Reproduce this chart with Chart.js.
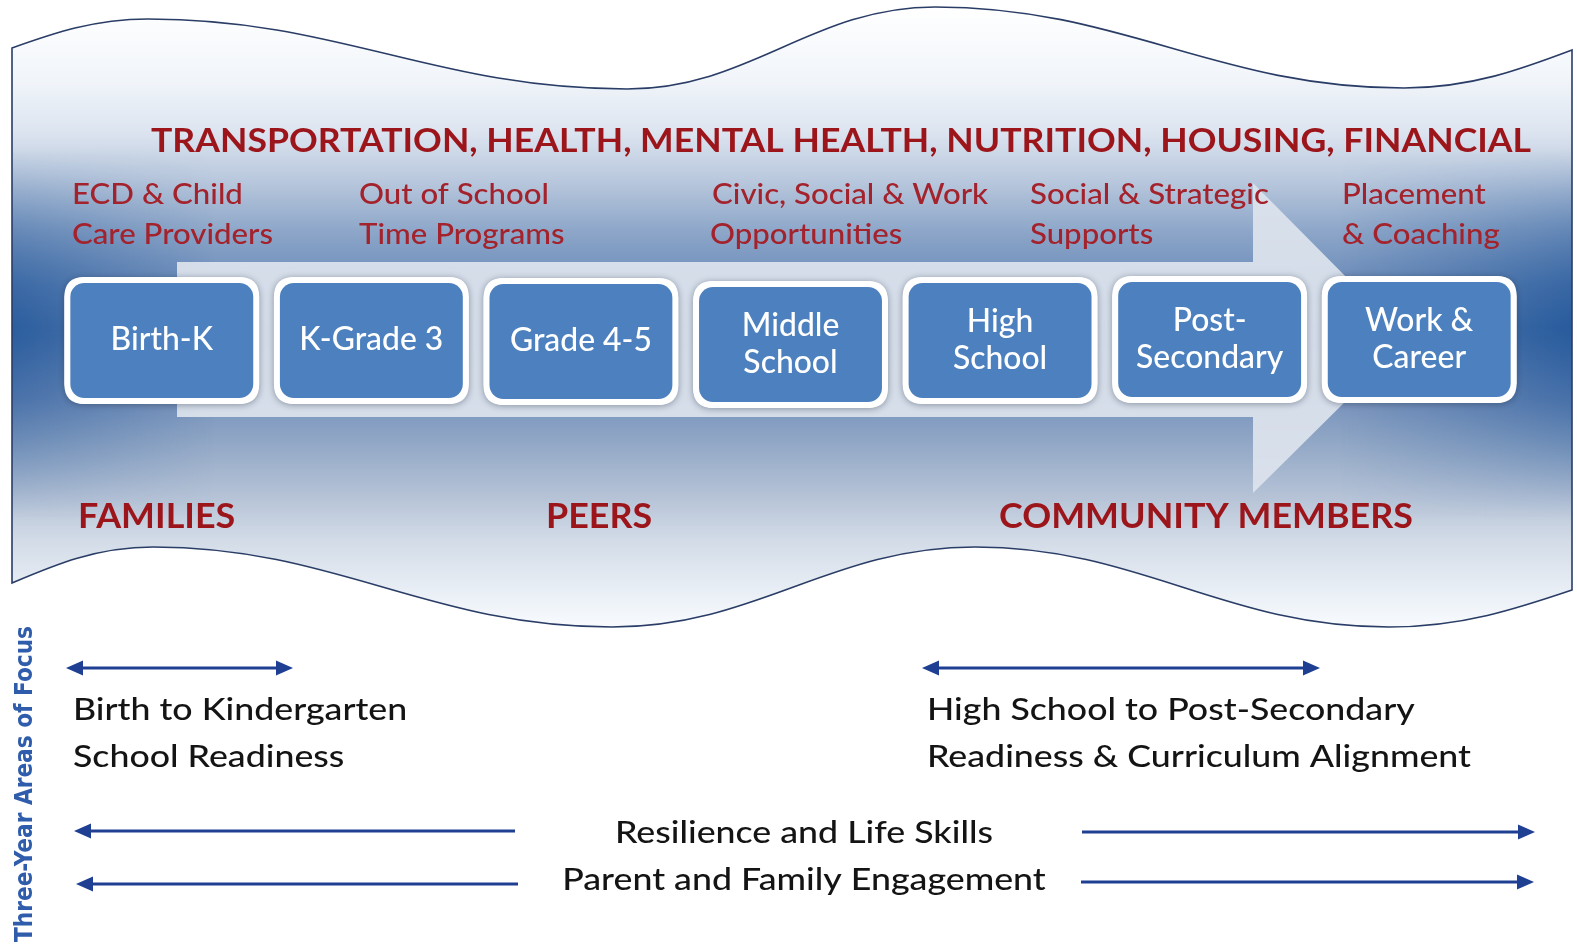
<!DOCTYPE html>
<html><head><meta charset="utf-8">
<script src="https://cdn.jsdelivr.net/npm/chart.js@4/dist/chart.umd.min.js"></script>
<style>html,body{margin:0;padding:0;background:#fff;overflow:hidden}#wrap{width:1577px;height:949px;position:relative}</style>
</head><body><div id="wrap"><canvas id="c"></canvas></div>
<script>
// ---------- content ----------
const stages = ['Birth-K','K-Grade 3','Grade 4-5','Middle School','High School','Post-Secondary','Work & Career'];
const stageLines = [['Birth-K'],['K-Grade 3'],['Grade 4-5'],['Middle','School'],['High','School'],['Post-','Secondary'],['Work &','Career']];
const supportDomains = ['TRANSPORTATION','HEALTH','MENTAL HEALTH','NUTRITION','HOUSING','FINANCIAL'];
const providers = [['ECD & Child','Care Providers'],['Out of School','Time Programs'],['Civic, Social & Work','Opportunities'],['Social & Strategic','Supports'],['Placement','& Coaching']];
const communityGroups = ['FAMILIES','PEERS','COMMUNITY MEMBERS'];
const focusAreas = [['Birth to Kindergarten','School Readiness'],['High School to Post-Secondary','Readiness & Curriculum Alignment']];
const ongoingAreas = ['Resilience and Life Skills','Parent and Family Engagement'];
const sideTitle = 'Three-Year Areas of Focus';

// ---------- layout (diagram units, mapped through the chart scales) ----------
const L = {
  W:1577, H:949, padLeft:57, padRight:53,
  boxTop:277, boxBottom:404, boxShift:[0,0,1,4,0,-1,-1],
  wave:{ top:[[12,48],[148,19],[627,89],[935,7],[1404,88],[1572,50]],
         bottom:[[12,583],[153,547],[612,627],[975,547],[1389,627],[1572,590]] },
  arrow:{x0:177,y0:262,y1:417,hx:1253,hTop:183,hBot:493,tip:1408},
  title:{x:151,y:152,w:1380,size:33},
  prov:{x:[72,359,712,1030,1342], x2:[72,359,710,1030,1342], y:[204,244], size:28, refW:201},
  box:{size:32, refW:144, gap:37},
  comm:{x:[78,546,999], y:528, size:35, refW:414},
  focus:{x:[73,927], y:[720,767], size:30, refW:544},
  focusArrows:[[66,293],[922,1320]], focusArrowY:668,
  ongoing:{cx:804, y:[843,890]},
  ongoingArrows:[ {l:[74,515], r:[1082,1535], y:[831,832]}, {l:[76,518], r:[1081,1534], y:[884,882]} ],
  side:{cx:26, cy:784, len:316, size:24}
};

const boxSpans = stages.map((s,i)=>[L.boxTop+L.boxShift[i], L.boxBottom+L.boxShift[i]]);

const RED = '#9c151b', RED2 = '#a3222b', NAVY = '#1f3f93';
const BODY = '500 ';

function makeHelpers(chart){
  const sx = chart.scales.px, sy = chart.scales.y;
  return { X:v=>sx.getPixelForValue(v), Y:v=>sy.getPixelForValue(v) };
}

function curveThrough(p, pts){
  for (let i=1;i<pts.length;i++){
    const [x0,y0]=pts[i-1],[x1,y1]=pts[i]; const dx=x1-x0, dy=y1-y0;
    const c1 = (i-1===0) ? [x0+dx*0.3, y0+dy*0.5] : [x0+dx*0.4, y0];
    const c2 = (i===pts.length-1) ? [x1-dx*0.3, y1-dy*0.5] : [x1-dx*0.4, y1];
    p.bezierCurveTo(c1[0],c1[1],c2[0],c2[1],x1,y1);
  }
}

function txt(ctx, s, x, y, font, color, align, sx){
  ctx.save(); ctx.font=font; ctx.fillStyle=color; ctx.textBaseline='alphabetic'; ctx.textAlign='left';
  const w = ctx.measureText(s).width*sx;
  const x0 = align==='center' ? x-w/2 : (align==='right' ? x-w : x);
  ctx.translate(x0,y); ctx.scale(sx,1); ctx.fillText(s,0,0); ctx.restore();
}
function fit(ctx, s, font, target){ ctx.save(); ctx.font=font; const w=ctx.measureText(s).width; ctx.restore(); return target/w; }

function hArrow(ctx, x1, x2, y, headL, headR){
  const hl=17, hw=7.5;
  ctx.save(); ctx.strokeStyle=NAVY; ctx.fillStyle=NAVY; ctx.lineWidth=2.8;
  ctx.beginPath(); ctx.moveTo(x1+(headL?hl-2:0),y); ctx.lineTo(x2-(headR?hl-2:0),y); ctx.stroke();
  if (headL){ ctx.beginPath(); ctx.moveTo(x1,y); ctx.lineTo(x1+hl,y-hw); ctx.lineTo(x1+hl,y+hw); ctx.closePath(); ctx.fill(); }
  if (headR){ ctx.beginPath(); ctx.moveTo(x2,y); ctx.lineTo(x2-hl,y-hw); ctx.lineTo(x2-hl,y+hw); ctx.closePath(); ctx.fill(); }
  ctx.restore();
}

function rrect(ctx,x,y,w,h,r){
  ctx.beginPath(); ctx.moveTo(x+r,y); ctx.lineTo(x+w-r,y); ctx.quadraticCurveTo(x+w,y,x+w,y+r);
  ctx.lineTo(x+w,y+h-r); ctx.quadraticCurveTo(x+w,y+h,x+w-r,y+h); ctx.lineTo(x+r,y+h);
  ctx.quadraticCurveTo(x,y+h,x,y+h-r); ctx.lineTo(x,y+r); ctx.quadraticCurveTo(x,y,x+r,y); ctx.closePath();
}

const backdrop = {
  id:'backdrop',
  beforeDatasetsDraw(chart){
    const ctx = chart.ctx; const {X,Y} = makeHelpers(chart);
    ctx.save();
    ctx.fillStyle='#ffffff'; ctx.fillRect(0,0,chart.width,chart.height);
    // wave shape
    const top = L.wave.top.map(([x,y])=>[X(x),Y(y)]);
    const bot = L.wave.bottom.map(([x,y])=>[X(x),Y(y)]).reverse();
    const p = new Path2D();
    p.moveTo(top[0][0],top[0][1]); curveThrough(p, top);
    p.lineTo(bot[0][0],bot[0][1]); curveThrough(p, bot); p.closePath();
    const g = ctx.createLinearGradient(0,Y(7),0,Y(627));
    const stops = [[7,'#ffffff'],[80,'#f1f5fa'],[130,'#dde5f0'],[180,'#b9c8dd'],[230,'#8ea7c9'],[285,'#6a8bb9'],[340,'#6284b5'],[400,'#7792bc'],[440,'#90a6c5'],[490,'#b1bfd4'],[540,'#d2dbe7'],[600,'#edf2f8'],[627,'#f8fafd']];
    stops.forEach(([y,c])=>g.addColorStop((y-7)/620,c));
    ctx.fillStyle=g; ctx.fill(p);
    // edge darkening band
    const oc = document.createElement('canvas'); oc.width=chart.width; oc.height=chart.height;
    const o = oc.getContext('2d');
    const hg = o.createLinearGradient(X(12),0,X(1572),0);
    hg.addColorStop(0,'rgba(25,80,150,0.75)'); hg.addColorStop(0.13,'rgba(25,80,150,0)');
    hg.addColorStop(0.85,'rgba(25,80,150,0)'); hg.addColorStop(1,'rgba(25,80,150,0.8)');
    o.fillStyle=hg; o.fillRect(0,0,oc.width,oc.height);
    o.globalCompositeOperation='destination-in';
    const vg = o.createLinearGradient(0,Y(150),0,Y(520));
    vg.addColorStop(0,'rgba(0,0,0,0)'); vg.addColorStop(0.48,'rgba(0,0,0,1)'); vg.addColorStop(1,'rgba(0,0,0,0)');
    o.fillStyle=vg; o.fillRect(0,0,oc.width,oc.height);
    ctx.save(); ctx.clip(p); ctx.drawImage(oc,0,0); ctx.restore();
    ctx.strokeStyle='#2a3d66'; ctx.lineWidth=1.6; ctx.stroke(p);
    // big progression arrow
    const a = L.arrow, mid=(a.y0+a.y1)/2;
    ctx.beginPath();
    ctx.moveTo(X(a.x0),Y(a.y0)); ctx.lineTo(X(a.hx),Y(a.y0)); ctx.lineTo(X(a.hx),Y(a.hTop));
    ctx.lineTo(X(a.tip),Y(mid)); ctx.lineTo(X(a.hx),Y(a.hBot)); ctx.lineTo(X(a.hx),Y(a.y1));
    ctx.lineTo(X(a.x0),Y(a.y1)); ctx.closePath();
    ctx.fillStyle='rgba(221,227,237,0.93)'; ctx.fill();
    // box shadows
    const meta = chart.getDatasetMeta(0);
    meta.data.forEach(el=>{
      const {x,y,base,width} = el.getProps(['x','y','base','width'],true);
      const t=Math.min(y,base), h=Math.abs(base-y);
      ctx.save(); ctx.shadowColor='rgba(40,50,70,0.45)'; ctx.shadowBlur=7; ctx.shadowOffsetY=1;
      ctx.fillStyle='#ffffff'; rrect(ctx,x-width/2,t,width,h,20); ctx.fill(); ctx.restore();
    });
    ctx.restore();
  },
  afterDatasetsDraw(chart){
    const ctx = chart.ctx; const {X,Y} = makeHelpers(chart);
    // stage labels inside boxes
    const bf = BODY+L.box.size+'px Lato';
    const bs = fit(ctx,'K-Grade 3',bf,L.box.refW);
    const meta = chart.getDatasetMeta(0);
    meta.data.forEach((el,i)=>{
      const {x,y,base} = el.getProps(['x','y','base'],true);
      const cy=(y+base)/2 - 2, cap=L.box.size*0.72;
      const lines=stageLines[i];
      lines.forEach((s,k)=>{
        const off = (k-(lines.length-1)/2)*L.box.gap;
        txt(ctx,s,x,cy+off+cap/2,bf,'#ffffff','center',bs);
      });
    });
    // title
    const titleText = supportDomains.join(', ');
    const tf = 'bold '+L.title.size+'px Lato';
    txt(ctx,titleText,X(L.title.x),Y(L.title.y),tf,RED,'left',fit(ctx,titleText,tf,L.title.w));
    // providers
    const pf = BODY+L.prov.size+'px Lato'; const ps = fit(ctx,'Care Providers',pf,L.prov.refW);
    providers.forEach((lines,i)=>{
      txt(ctx,lines[0],X(L.prov.x[i]),Y(L.prov.y[0]),pf,RED2,'left',ps);
      txt(ctx,lines[1],X(L.prov.x2[i]),Y(L.prov.y[1]),pf,RED2,'left',ps);
    });
    // community groups
    const cf = 'bold '+L.comm.size+'px Lato'; const cs = fit(ctx,'COMMUNITY MEMBERS',cf,L.comm.refW);
    communityGroups.forEach((s,i)=>txt(ctx,s,X(L.comm.x[i]),Y(L.comm.y),cf,RED,'left',cs));
    // focus areas
    const ff = BODY+L.focus.size+'px Lato'; const fs = fit(ctx,'Readiness & Curriculum Alignment',ff,L.focus.refW);
    focusAreas.forEach((lines,i)=>{
      lines.forEach((s,k)=>txt(ctx,s,X(L.focus.x[i]),Y(L.focus.y[k]),ff,'#141414','left',fs));
      const [a,b]=L.focusArrows[i]; hArrow(ctx,X(a),X(b),Y(L.focusArrowY),true,true);
    });
    ongoingAreas.forEach((s,i)=>{
      txt(ctx,s,X(L.ongoing.cx),Y(L.ongoing.y[i]),ff,'#141414','center',fs);
      const ar=L.ongoingArrows[i];
      hArrow(ctx,X(ar.l[0]),X(ar.l[1]),Y(ar.y[0]),true,false);
      hArrow(ctx,X(ar.r[0]),X(ar.r[1]),Y(ar.y[1]),false,true);
    });
    // side title
    const sf = 'bold '+L.side.size+'px "DejaVu Sans Condensed", "DejaVu Sans", sans-serif';
    const ss = fit(ctx,sideTitle,sf,L.side.len);
    ctx.save(); ctx.translate(X(L.side.cx),Y(L.side.cy)); ctx.rotate(-Math.PI/2);
    ctx.font=sf; ctx.fillStyle='#2f5cab'; ctx.textAlign='center'; ctx.textBaseline='middle';
    ctx.scale(ss,1); ctx.fillText(sideTitle,0,0); ctx.restore();
  }
};

function build(){
  new Chart(document.getElementById('c'), {
    type:'bar',
    data:{ labels: stages, datasets:[{ data: boxSpans, backgroundColor:'#4d80be', borderColor:'#ffffff', borderWidth:6, borderRadius:20, borderSkipped:false, barPercentage:0.93, categoryPercentage:1.0 }] },
    options:{
      responsive:true, maintainAspectRatio:false, animation:false, events:[],
      layout:{ padding:{ left:L.padLeft, right:L.padRight, top:0, bottom:0 } },
      plugins:{ legend:{display:false}, tooltip:{enabled:false} },
      scales:{
        x:{ type:'category', display:false, offset:true, grid:{display:false} },
        px:{ type:'linear', axis:'x', display:false, offset:false, bounds:'data', grace:0, min:L.padLeft, max:L.W-L.padRight, grid:{offset:false} },
        y:{ type:'linear', display:false, min:0, max:L.H, reverse:true }
      }
    },
    plugins:[backdrop]
  });
}
Promise.all([document.fonts.load('500 30px Lato'),document.fonts.load('bold 30px Lato'),document.fonts.load('bold 22px "DejaVu Sans"')]).then(build, build);
</script></body></html>
